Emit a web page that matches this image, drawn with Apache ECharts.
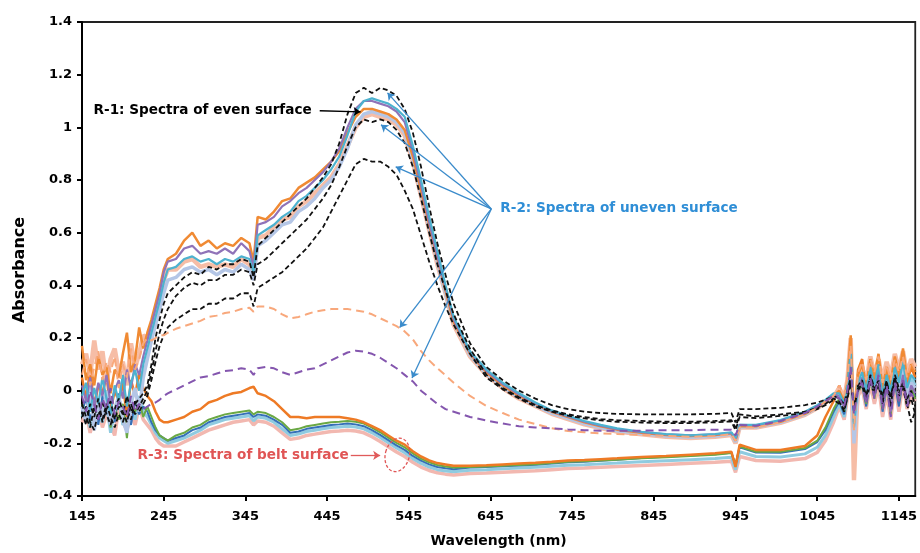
<!DOCTYPE html>
<html><head><meta charset="utf-8">
<script src="https://cdn.jsdelivr.net/npm/echarts@6/dist/echarts.min.js"></script>
<style>html,body{margin:0;padding:0;background:#fff}#c{width:920px;height:553px}</style>
</head><body><div id="c"></div>
<script>
// ---- wavelengths (nm) ----
const wavelengths = [
145,150,155,160,165,170,175,180,185,190,195,200,205,210,215,220,225,230,235,240,245,250,
260,270,280,290,300,310,320,330,340,350,355,360,370,380,390,400,410,420,430,440,450,460,470,480,490,500,510,520,530,540,550,560,570,580,590,600,
620,640,660,680,700,720,740,760,780,800,830,860,890,920,940,945,950,970,1000,1030,1045,1055,1065,
1072,1078,1082,1086,1090,1095,1100,1105,1110,1115,1120,1125,1130,1135,1140,1145,1150,1155,1160,1165];

// ---- R-1: even surface (coloured bundle) ----
const evenOrange = [
0.17,0.04,0.10,0.02,0.13,0.06,0.09,-0.01,0.08,0.05,0.14,0.22,0.07,0.12,0.24,0.16,0.22,0.27,0.33,0.39,0.46,0.50,
0.52,0.57,0.60,0.55,0.57,0.54,0.56,0.55,0.58,0.56,0.49,0.66,0.65,0.68,0.72,0.73,0.77,0.79,0.81,0.84,0.87,0.91,0.98,1.04,1.07,1.07,1.06,1.05,1.03,0.99,0.89,0.76,0.63,0.50,0.38,0.26,
0.14,0.07,0.02,-0.02,-0.05,-0.08,-0.10,-0.12,-0.135,-0.148,-0.16,-0.168,-0.172,-0.168,-0.162,-0.19,-0.135,-0.135,-0.118,-0.088,-0.062,-0.04,-0.02,
0.00,-0.04,0.03,0.21,-0.12,0.06,0.10,0.02,0.12,0.05,0.14,0.01,0.09,0.03,0.13,0.06,0.16,0.04,0.10,0.07];
const evenPurple = [
0.02,-0.04,0.05,-0.06,0.03,-0.02,0.06,-0.05,0.00,0.04,-0.03,0.08,0.01,0.10,0.06,0.13,0.19,0.25,0.31,0.37,0.45,0.49,
0.50,0.54,0.55,0.52,0.53,0.52,0.54,0.52,0.56,0.53,0.47,0.63,0.64,0.66,0.70,0.72,0.75,0.77,0.80,0.83,0.87,0.92,1.00,1.07,1.10,1.10,1.09,1.08,1.06,1.02,0.91,0.78,0.64,0.51,0.39,0.27,
0.145,0.075,0.025,-0.015,-0.048,-0.078,-0.098,-0.118,-0.133,-0.146,-0.158,-0.166,-0.17,-0.166,-0.16,-0.185,-0.13,-0.132,-0.115,-0.085,-0.06,-0.038,-0.015,
-0.02,-0.06,0.00,0.12,-0.10,0.00,0.05,-0.04,0.07,-0.02,0.08,-0.06,0.03,-0.08,0.05,-0.03,0.06,-0.05,0.02,-0.01];
const evenTeal = [
-0.02,0.03,-0.08,0.01,-0.05,0.05,-0.03,-0.09,0.02,-0.04,0.06,-0.06,0.03,0.08,0.00,0.10,0.16,0.22,0.28,0.34,0.41,0.46,
0.47,0.50,0.51,0.49,0.50,0.48,0.50,0.49,0.51,0.50,0.45,0.59,0.61,0.63,0.66,0.68,0.72,0.74,0.77,0.80,0.84,0.89,0.97,1.06,1.10,1.11,1.10,1.09,1.07,1.04,0.93,0.80,0.66,0.53,0.40,0.28,
0.15,0.08,0.03,-0.01,-0.045,-0.075,-0.095,-0.115,-0.13,-0.143,-0.156,-0.165,-0.17,-0.165,-0.158,-0.18,-0.13,-0.13,-0.112,-0.08,-0.055,-0.035,-0.01,
-0.01,-0.05,0.02,0.15,-0.14,0.03,0.07,0.00,0.09,0.02,0.10,-0.02,0.06,0.00,0.09,0.03,0.11,0.01,0.06,0.04];
const evenSalmon = [
0.10,0.14,0.06,0.19,0.08,0.15,0.03,0.12,0.16,0.07,0.11,0.02,0.18,0.09,0.14,0.21,0.20,0.24,0.29,0.35,0.42,0.46,
0.46,0.49,0.50,0.47,0.48,0.47,0.48,0.47,0.50,0.48,0.44,0.58,0.59,0.62,0.65,0.66,0.70,0.72,0.75,0.78,0.81,0.86,0.93,1.00,1.04,1.05,1.04,1.03,1.01,0.97,0.87,0.74,0.61,0.48,0.37,0.25,
0.13,0.06,0.01,-0.03,-0.058,-0.088,-0.108,-0.128,-0.142,-0.155,-0.166,-0.175,-0.18,-0.175,-0.168,-0.2,-0.14,-0.14,-0.122,-0.092,-0.066,-0.045,-0.025,
0.01,-0.03,0.04,0.20,-0.34,0.05,0.09,0.03,0.13,0.06,0.12,0.04,0.11,0.05,0.14,0.08,0.15,0.06,0.12,0.09];
const evenGrey = [
-0.06,-0.12,0.02,-0.15,-0.04,-0.10,0.00,-0.13,-0.07,-0.02,-0.11,-0.16,-0.05,0.01,-0.08,0.05,0.12,0.19,0.25,0.31,0.37,0.42,
0.43,0.46,0.47,0.45,0.46,0.44,0.46,0.45,0.48,0.46,0.42,0.55,0.57,0.60,0.63,0.64,0.68,0.70,0.73,0.77,0.80,0.85,0.92,1.01,1.05,1.06,1.05,1.04,1.02,0.98,0.88,0.75,0.62,0.49,0.37,0.26,
0.135,0.065,0.015,-0.025,-0.055,-0.085,-0.105,-0.125,-0.14,-0.152,-0.163,-0.172,-0.177,-0.172,-0.165,-0.195,-0.138,-0.138,-0.12,-0.09,-0.064,-0.042,-0.022,
-0.02,-0.07,0.01,0.14,-0.20,0.02,0.04,-0.03,0.06,0.00,0.05,-0.05,0.04,-0.06,0.07,-0.01,0.08,-0.03,0.03,0.01];

// ---- R-3: belt surface ----
const beltOrange = [
0.05,-0.03,0.08,-0.06,0.02,-0.01,0.06,-0.08,0.00,-0.04,0.03,-0.10,0.04,-0.02,0.07,0.01,-0.02,-0.04,-0.08,-0.11,-0.12,-0.12,
-0.11,-0.10,-0.08,-0.07,-0.045,-0.035,-0.02,-0.01,-0.005,0.01,0.015,-0.01,-0.02,-0.04,-0.07,-0.10,-0.10,-0.105,-0.10,-0.10,-0.10,-0.10,-0.105,-0.11,-0.12,-0.135,-0.15,-0.17,-0.19,-0.205,-0.23,-0.25,-0.265,-0.275,-0.28,-0.285,
-0.285,-0.283,-0.28,-0.277,-0.274,-0.27,-0.265,-0.263,-0.26,-0.257,-0.252,-0.248,-0.243,-0.238,-0.232,-0.29,-0.205,-0.225,-0.225,-0.21,-0.17,-0.10,-0.04,
0.02,-0.06,0.05,0.18,-0.10,0.08,0.12,0.00,0.10,0.03,0.11,-0.01,0.08,0.02,0.12,0.04,0.15,0.03,0.09,0.05];
const beltGreen = [
-0.05,-0.10,-0.02,-0.12,-0.06,-0.09,0.00,-0.14,-0.07,-0.11,-0.05,-0.18,-0.03,-0.08,-0.04,-0.10,-0.06,-0.10,-0.14,-0.17,-0.18,-0.19,
-0.17,-0.16,-0.14,-0.13,-0.11,-0.10,-0.09,-0.085,-0.08,-0.075,-0.09,-0.08,-0.085,-0.10,-0.12,-0.15,-0.145,-0.135,-0.13,-0.125,-0.12,-0.118,-0.115,-0.118,-0.125,-0.14,-0.158,-0.178,-0.198,-0.215,-0.238,-0.258,-0.272,-0.282,-0.288,-0.292,
-0.29,-0.288,-0.285,-0.282,-0.279,-0.275,-0.27,-0.268,-0.265,-0.262,-0.257,-0.253,-0.248,-0.243,-0.237,-0.28,-0.212,-0.232,-0.232,-0.218,-0.19,-0.14,-0.07,
-0.03,-0.08,-0.01,0.10,-0.12,-0.01,0.03,-0.05,0.05,-0.03,0.06,-0.07,0.02,-0.09,0.04,-0.04,0.05,-0.06,0.01,-0.03];
const beltBlue = [
-0.08,-0.03,-0.11,-0.05,-0.13,-0.02,-0.09,-0.06,-0.12,-0.01,-0.10,-0.07,-0.13,-0.04,-0.09,-0.06,-0.08,-0.12,-0.15,-0.17,-0.18,-0.19,
-0.18,-0.17,-0.15,-0.14,-0.12,-0.11,-0.10,-0.095,-0.09,-0.085,-0.10,-0.09,-0.095,-0.11,-0.13,-0.16,-0.155,-0.145,-0.14,-0.135,-0.13,-0.128,-0.125,-0.128,-0.135,-0.15,-0.168,-0.188,-0.208,-0.225,-0.248,-0.266,-0.28,-0.29,-0.295,-0.298,
-0.292,-0.29,-0.287,-0.284,-0.281,-0.277,-0.272,-0.27,-0.266,-0.262,-0.256,-0.251,-0.246,-0.241,-0.236,-0.285,-0.215,-0.235,-0.236,-0.222,-0.195,-0.15,-0.08,
-0.04,-0.09,-0.02,0.08,-0.16,0.00,0.02,-0.06,0.04,-0.02,0.04,-0.08,0.01,-0.05,0.03,-0.06,0.04,-0.04,0.00,-0.02];
const beltTeal = [
-0.10,-0.06,-0.14,-0.04,-0.09,-0.12,-0.05,-0.16,-0.08,-0.03,-0.13,-0.09,-0.06,-0.11,-0.02,-0.08,-0.10,-0.13,-0.16,-0.18,-0.19,-0.20,
-0.19,-0.18,-0.165,-0.15,-0.13,-0.12,-0.11,-0.105,-0.10,-0.095,-0.115,-0.10,-0.105,-0.12,-0.145,-0.17,-0.165,-0.155,-0.15,-0.145,-0.14,-0.138,-0.135,-0.138,-0.145,-0.16,-0.178,-0.198,-0.218,-0.236,-0.258,-0.276,-0.29,-0.30,-0.305,-0.308,
-0.302,-0.3,-0.297,-0.294,-0.291,-0.287,-0.283,-0.281,-0.278,-0.275,-0.27,-0.266,-0.262,-0.258,-0.253,-0.30,-0.232,-0.25,-0.252,-0.24,-0.215,-0.17,-0.10,
-0.05,-0.10,0.00,0.11,-0.18,0.01,0.05,-0.02,0.07,-0.01,0.07,-0.04,0.05,-0.03,0.08,0.00,0.09,-0.02,0.05,0.02];
const beltPink = [
-0.12,-0.08,-0.16,-0.10,-0.05,-0.14,-0.09,-0.13,-0.17,-0.07,-0.12,-0.15,-0.09,-0.13,-0.06,-0.11,-0.13,-0.15,-0.18,-0.20,-0.21,-0.21,
-0.21,-0.195,-0.18,-0.165,-0.15,-0.14,-0.13,-0.12,-0.115,-0.11,-0.13,-0.115,-0.12,-0.135,-0.16,-0.185,-0.18,-0.17,-0.165,-0.16,-0.155,-0.153,-0.15,-0.153,-0.16,-0.175,-0.193,-0.213,-0.233,-0.25,-0.272,-0.29,-0.303,-0.312,-0.317,-0.32,
-0.315,-0.313,-0.31,-0.307,-0.304,-0.3,-0.296,-0.294,-0.291,-0.288,-0.284,-0.28,-0.276,-0.272,-0.268,-0.31,-0.25,-0.265,-0.268,-0.258,-0.235,-0.19,-0.12,
-0.06,-0.11,-0.03,0.09,-0.22,-0.02,0.01,-0.07,0.03,-0.05,0.02,-0.10,-0.01,-0.11,0.02,-0.08,0.03,-0.07,-0.02,-0.04];

// ---- R-2: uneven surface (dashed) ----
const unevenBlack1 = [
-0.08,-0.13,-0.05,-0.10,-0.03,-0.12,-0.07,-0.04,-0.11,-0.06,-0.09,-0.02,-0.08,-0.05,-0.03,-0.01,0.02,0.10,0.20,0.27,0.33,0.37,
0.40,0.43,0.45,0.44,0.47,0.46,0.48,0.48,0.50,0.49,0.43,0.55,0.58,0.61,0.64,0.67,0.70,0.73,0.77,0.81,0.86,0.94,1.05,1.13,1.15,1.13,1.15,1.14,1.12,1.07,0.98,0.85,0.70,0.56,0.44,0.33,
0.18,0.09,0.04,0.00,-0.03,-0.055,-0.07,-0.08,-0.085,-0.088,-0.09,-0.09,-0.09,-0.088,-0.085,-0.12,-0.07,-0.07,-0.065,-0.055,-0.045,-0.035,-0.02,
-0.03,-0.05,0.00,0.04,-0.06,0.00,0.03,-0.02,0.05,0.00,0.04,-0.04,0.02,-0.02,0.05,-0.01,0.03,-0.05,-0.12,-0.08];
const unevenBlack2 = [
-0.05,-0.10,-0.14,-0.06,-0.11,-0.04,-0.09,-0.13,-0.07,-0.03,-0.08,-0.12,-0.05,-0.09,-0.06,-0.03,0.00,0.07,0.15,0.22,0.27,0.31,
0.36,0.39,0.41,0.40,0.42,0.42,0.44,0.44,0.46,0.45,0.40,0.48,0.50,0.53,0.56,0.59,0.62,0.65,0.69,0.73,0.78,0.85,0.93,1.00,1.03,1.02,1.03,1.02,0.99,0.94,0.85,0.73,0.60,0.48,0.38,0.29,
0.16,0.06,0.01,-0.025,-0.055,-0.075,-0.09,-0.10,-0.108,-0.112,-0.115,-0.118,-0.118,-0.115,-0.112,-0.14,-0.09,-0.098,-0.09,-0.08,-0.065,-0.05,-0.03,
-0.04,-0.08,-0.02,0.06,-0.08,0.02,0.04,-0.03,0.06,0.01,0.03,-0.02,0.04,-0.06,0.06,0.01,0.02,-0.03,0.00,-0.06];
const unevenBlack3 = [
-0.10,-0.06,-0.12,-0.15,-0.08,-0.11,-0.05,-0.10,-0.14,-0.09,-0.12,-0.07,-0.11,-0.04,-0.08,-0.05,-0.02,0.04,0.11,0.17,0.21,0.24,
0.27,0.29,0.31,0.31,0.33,0.33,0.35,0.35,0.37,0.37,0.32,0.39,0.41,0.43,0.45,0.48,0.51,0.54,0.58,0.62,0.68,0.74,0.80,0.86,0.88,0.87,0.87,0.85,0.82,0.76,0.69,0.59,0.49,0.40,0.32,0.25,
0.14,0.05,0.005,-0.03,-0.06,-0.08,-0.095,-0.105,-0.113,-0.118,-0.121,-0.123,-0.123,-0.12,-0.117,-0.15,-0.10,-0.104,-0.096,-0.085,-0.07,-0.055,-0.035,
-0.05,-0.07,-0.03,0.03,-0.06,0.01,0.02,-0.04,0.03,-0.01,0.02,-0.05,0.03,-0.03,0.04,-0.02,0.01,-0.06,-0.03,-0.09];
const unevenSalmon = [
0.06,0.12,0.02,0.09,0.15,0.04,0.11,0.07,0.13,0.01,0.10,0.05,0.16,0.08,0.12,0.18,0.20,0.19,0.20,0.21,0.21,0.22,
0.235,0.245,0.255,0.265,0.28,0.285,0.295,0.30,0.31,0.315,0.30,0.32,0.32,0.31,0.29,0.275,0.28,0.29,0.30,0.305,0.31,0.31,0.31,0.305,0.30,0.29,0.275,0.26,0.245,0.225,0.195,0.15,0.115,0.085,0.058,0.03,
-0.02,-0.058,-0.085,-0.11,-0.127,-0.143,-0.153,-0.158,-0.162,-0.165,-0.168,-0.172,-0.175,-0.172,-0.165,-0.19,-0.14,-0.14,-0.12,-0.09,-0.065,-0.04,-0.02,
0.02,-0.02,0.05,0.17,-0.15,0.07,0.11,0.04,0.12,0.07,0.13,0.03,0.10,0.04,0.12,0.07,0.13,0.05,0.11,0.08];
const unevenPurple = [
-0.02,-0.08,0.00,-0.05,-0.11,-0.03,-0.07,0.01,-0.09,-0.04,-0.06,-0.10,-0.02,-0.08,-0.05,-0.07,-0.06,-0.05,-0.045,-0.035,-0.02,-0.01,
0.005,0.02,0.035,0.05,0.055,0.065,0.075,0.078,0.085,0.08,0.06,0.085,0.09,0.085,0.07,0.06,0.07,0.08,0.085,0.10,0.115,0.13,0.145,0.152,0.148,0.14,0.125,0.105,0.085,0.06,0.035,0.00,-0.025,-0.05,-0.07,-0.08,
-0.10,-0.113,-0.125,-0.135,-0.14,-0.143,-0.147,-0.15,-0.152,-0.152,-0.152,-0.15,-0.15,-0.148,-0.148,-0.17,-0.13,-0.133,-0.115,-0.085,-0.06,-0.04,-0.02,
-0.03,-0.06,0.00,0.09,-0.09,0.01,0.03,-0.05,0.05,-0.03,0.06,-0.07,0.02,-0.10,0.03,-0.04,0.04,-0.06,-0.01,-0.04];

// ---- annotations (data coordinates) ----
const r1Arrow = [[436, 1.063], [486, 1.059]];
const r2Origin = [646, 0.69];
const r2Targets = [[519, 1.131], [511, 1.01], [529, 0.85], [534, 0.24], [549, 0.048]];
const r3Arrow = [[474, -0.246], [510, -0.246]];
const r3Circle = [531, -0.244];
const r1Label = 'R-1: Spectra of even surface';
const r2Label = 'R-2: Spectra of uneven surface';
const r3Label = 'R-3: Spectra of belt surface';

const FONT = '"DejaVu Sans", Arial, sans-serif';
const pts = v => wavelengths.map((w, i) => [w, v[i]]);
function solid(vals, color, width) {
  return {type:'line', data: pts(vals), symbol:'none', silent:true,
    lineStyle:{color:color, width:width, type:'solid'}, z:2};
}
function dashed(vals, color, width, dash) {
  return {type:'line', data: pts(vals), symbol:'none', silent:true,
    lineStyle:{color:color, width:width, type:dash, cap:'butt'}, z:3};
}
function arrows(pairs, color) {
  return {type:'line', data:[], silent:true, z:5,
    markLine:{silent:true, symbol:['none','arrow'], symbolSize:7, animation:false,
      label:{show:false}, lineStyle:{color:color, width:1.3, type:'solid'},
      emphasis:{disabled:true},
      data: pairs.map(p => [{coord:p[0]}, {coord:p[1]}])}};
}

const chart = echarts.init(document.getElementById('c'), null, {renderer:'canvas'});
const option = {
  animation:false,
  backgroundColor:'#fff',
  grid:{left:82, right:-2, top:22, bottom:54, show:true, borderColor:'#222', borderWidth:1.8, backgroundColor:'transparent'},
  xAxis:{type:'value', min:145, max:1165, interval:100,
    name:'Wavelength (nm)', nameLocation:'middle', nameGap:38,
    nameTextStyle:{fontFamily:FONT, fontWeight:'bold', fontSize:14, color:'#000'},
    axisLine:{show:true, onZero:false, lineStyle:{color:'#000', width:2}},
    axisTick:{show:true, inside:false, length:5, lineStyle:{color:'#000', width:2}},
    axisLabel:{fontFamily:FONT, fontWeight:'bold', fontSize:13, color:'#000', margin:14, showMaxLabel:false,
      formatter: v => String(Math.round(v))},
    splitLine:{show:false}},
  yAxis:{type:'value', min:-0.4, max:1.4, interval:0.2,
    name:'Absorbance', nameLocation:'middle', nameGap:54,
    nameTextStyle:{fontFamily:FONT, fontWeight:'bold', fontSize:16, color:'#000', padding:[0,22,0,0]},
    axisLine:{show:true, onZero:false, lineStyle:{color:'#000', width:2}},
    axisTick:{show:true, inside:false, length:5, lineStyle:{color:'#000', width:2}},
    axisLabel:{fontFamily:FONT, fontWeight:'bold', fontSize:13, color:'#000', margin:10,
      formatter: v => String(Math.round(v*10)/10)},
    splitLine:{show:false}},
  series:[
    dashed(unevenBlack3, '#111', 1.8, [5,3]),
    dashed(unevenBlack2, '#111', 1.8, [5,3]),
    dashed(unevenBlack1, '#111', 1.8, [5,3]),
    solid(beltPink, '#F2B8B0', 3.5),
    solid(beltTeal, '#8FCBE0', 3),
    solid(beltBlue, '#3570B8', 2),
    solid(beltGreen, '#6AA844', 2),
    solid(beltOrange, '#EE7A25', 2.5),
    solid(evenSalmon, '#F6BDA6', 4.5),
    solid(evenGrey, '#B4C6E6', 3.5),
    solid(evenOrange, '#F08A33', 2.5),
    solid(evenPurple, '#9073B8', 2.2),
    solid(evenTeal, '#4DB2CF', 2.2),
    dashed(unevenSalmon, '#F8A87C', 2, [8,5]),
    dashed(unevenPurple, '#8456AE', 2, [8,5]),
    arrows([r1Arrow], '#000'),
    arrows(r2Targets.map(t => [r2Origin, t]), '#3A8BCB'),
    arrows([r3Arrow], '#E05A5A')
  ]
};
chart.setOption(option);

const px = p => chart.convertToPixel({gridIndex:0}, p);
const a1 = px(r1Arrow[0]), o2 = px(r2Origin), a3 = px(r3Arrow[0]), c3 = px(r3Circle);
const LF = 'bold 13.6px ' + FONT;
chart.setOption({graphic:[
  {type:'text', x:a1[0]-8, y:a1[1], style:{text:r1Label, fill:'#000', font:LF, align:'right', verticalAlign:'middle'}, z:10},
  {type:'text', x:o2[0]+9, y:o2[1], style:{text:r2Label, fill:'#2F8ED6', font:LF, align:'left', verticalAlign:'middle'}, z:10},
  {type:'text', x:a3[0]-2, y:a3[1], style:{text:r3Label, fill:'#E05555', font:LF, align:'right', verticalAlign:'middle'}, z:10},
  {type:'ellipse', x:c3[0], y:c3[1], rotation:-0.25, shape:{cx:0, cy:0, rx:12, ry:17},
    style:{fill:'none', stroke:'#E05555', lineWidth:1.3, lineDash:[3,2]}, z:10}
]});
</script>
</body></html>
